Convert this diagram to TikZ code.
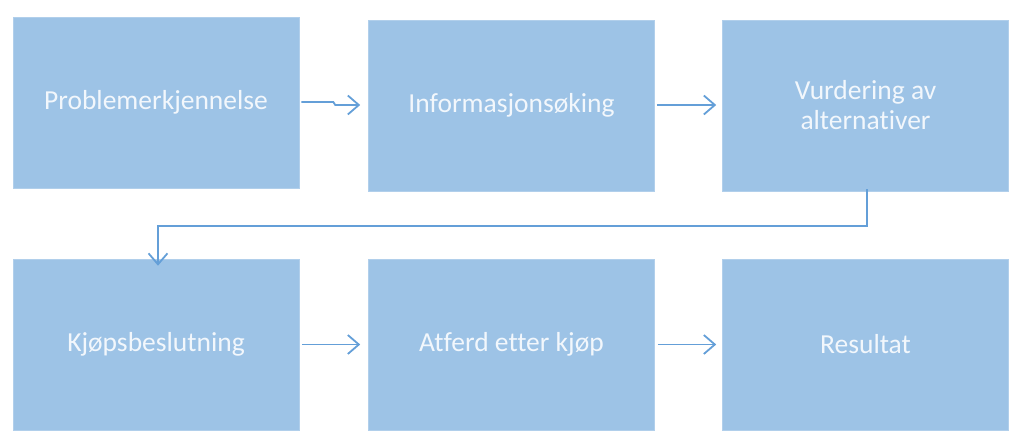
\documentclass[tikz,border=0pt]{standalone}
\usepackage{fontspec}
\setmainfont{Carlito}[Ligatures={NoCommon,NoContextual}]
\usetikzlibrary{arrows.meta}
\definecolor{boxfill}{HTML}{9DC3E6}
\definecolor{boxtext}{HTML}{F2F7FC}
\definecolor{arrowc}{HTML}{649FD8}
\begin{document}
\begin{tikzpicture}[x=1pt,y=-1pt,
  stepbox/.style={fill=boxfill,draw=boxfill!80!white,line width=0.6pt,minimum width=286pt,minimum height=171pt,
    inner sep=0pt,text=boxtext,font=\fontsize{27.5}{30}\selectfont,align=center},
  flow/.style={draw=arrowc,line width=1.8pt,-{Straight Barb[length=11pt,width=19pt,line width=1.8pt]}}]
\useasboundingbox (0,0) rectangle (1024,444);
\node[stepbox] (b1) at (156,102.5) {Problemerkjennelse};
\node[stepbox] (b2) at (511.5,105.5) {Informasjonsøking};
\node[stepbox] (b3) at (865.5,105.5) {Vurdering av\\alternativer};
\node[stepbox] (b4) at (156,344.5) {Kjøpsbeslutning};
\node[stepbox] (b5) at (511.5,344.5) {Atferd etter kjøp};
\node[stepbox] (b6) at (865.5,344.5) {Resultat};
\coordinate (c1) at (867,226);
\coordinate (c2) at (158,226);
\draw[flow] ([xshift=2pt]b1.east |- 0,102) -- ++(32,0) -- ++(2,3) -- ([xshift=-8pt]b2.west |- 0,105);
\draw[flow] ([xshift=2pt]b2.east |- 0,105) -- ([xshift=-6pt]b3.west |- 0,105);
\draw[flow] ([yshift=2pt]b3.south -| c1) -- (c1) -- (c2) -- ([yshift=-7pt]b4.north -| c2);
\draw[flow] ([xshift=3pt]b4.east) -- ([xshift=-8pt]b5.west);
\draw[flow] ([xshift=3pt]b5.east) -- ([xshift=-6pt]b6.west);
\end{tikzpicture}
\end{document}
